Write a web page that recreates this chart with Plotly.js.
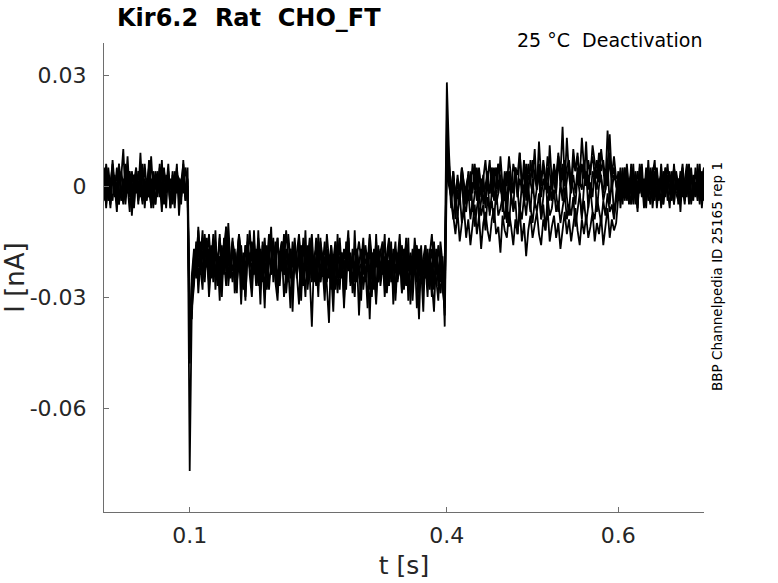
<!DOCTYPE html>
<html>
<head>
<meta charset="utf-8">
<script src="https://cdn.plot.ly/plotly-3.0.1.min.js"></script>
<style>
  html, body { margin: 0; padding: 0; background: #fff; }
  #plot { width: 778px; height: 583px; }
</style>
</head>
<body>
<div id="plot"></div>
<script>
// sweeps sampled every 2.5 ms from t = 0, current read off the picture in pA
// each sweep: pre (0-0.1 s), step (0.1-0.4 s), tail (0.4-0.6 s), post (0.6-0.7 s)
const sampleStep = 0.0025

const sweep1 = {
  pre: [2,-3,5,-1,-4,3,-2,6,-3,1,-5,2,4,-2,-6,3,0,-3,5,-4,2,-1,-5,4,1,-3,6,-2,-4,3,-1,2,-5,4,-2,1,-3,5,-4,0],
  step: [-77,-31,-24,-17,-22,-15,-25,-19,-14,-23, -18,-26,-16,-21,-13,-24,-20,-27,-15,-22,
         -17,-25,-19,-14,-23,-28,-16,-21,-18,-24, -15,-22,-27,-17,-20,-14,-25,-19,-23,-16,
         -21,-29,-18,-15,-24,-20,-26,-17,-22,-14, -23,-19,-31,-16,-21,-25,-18,-13,-24,-20,
         -27,-17,-22,-15,-26,-19,-23,-34,-18,-21, -16,-24,-20,-28,-15,-22,-19,-25,-17,-23,
         -21,-14,-26,-18,-23,-30,-17,-22,-19,-25, -16,-24,-20,-27,-18,-22,-15,-26,-21,-19,
         -28,-17,-23,-20,-25,-16,-22,-36,-19,-24, -18,-26,-21,-17,-27,-20,-24,-19,-29,-22],
  tail: [28,9,-3,-8,-13,-7,-15,-10,-6,-14, -9,-16,-11,-5,-13,-8,-17,-10,-7,-12,
         -15,-9,-6,-13,-11,-18,-8,-12,-14,-7, -11,-16,-9,-13,-6,-15,-10,-19,-12,-8,
         -14,-10,-7,-13,-16,-9,-12,-6,-15,-11, -8,-14,-10,-17,-12,-7,-13,-9,-15,-11,
         -6,-12,-16,-9,-13,-8,-14,-11,-7,-15, -10,-13,-8,-16,-11,-6,-14,-9,-12,-10],
  post: [-3,4,-1,5,-4,2,-2,6,-5,1,3,-3,0,-6,4,-1,2,-4,5,-2,1,-5,3,-1,4,-3,6,-2,-4,2,0,-5,3,-1,5,-3,1,-4,2,-2,4]
}

const sweep2 = {
  pre: [-2,4,-1,-5,3,1,-4,6,-2,-3,5,-1,2,-6,3,-2,4,0,-5,2,-3,7,-1,-4,3,-2,5,-3,1,-6,4,-1,2,-4,5,-2,-3,3,-1,2],
  step: [-42,-26,-19,-23,-16,-24,-18,-13,-22,-17, -25,-20,-15,-23,-19,-27,-14,-21,-18,-24,
         -16,-22,-20,-13,-26,-18,-23,-15,-21,-19, -24,-17,-22,-28,-16,-20,-25,-18,-14,-23,
         -19,-26,-21,-15,-24,-17,-22,-20,-27,-16, -22,-18,-25,-14,-21,-23,-17,-26,-19,-24,
         -15,-23,-20,-27,-18,-22,-16,-24,-21,-29, -19,-25,-17,-22,-14,-26,-20,-23,-18,-24,
         -27,-16,-21,-19,-25,-18,-23,-32,-20,-17, -24,-19,-22,-15,-26,-21,-18,-25,-23,-16,
         -22,-27,-19,-24,-17,-21,-26,-18,-23,-20, -25,-17,-28,-21,-19,-24,-16,-22,-26,-20],
  tail: [7,2,-4,-9,-3,-8,-2,-10,-5,-7, -1,-9,-4,-11,-6,-2,-8,-5,-12,-3,
         -7,-4,-10,-1,-8,-6,-3,-9,-5,-11, -2,-7,-4,-13,-6,-9,-3,-8,-1,-6,
         -10,-4,-7,-2,-9,-5,-12,-3,-8,-6, -1,-7,-4,-10,-6,-2,-9,-5,-8,-3,
         -11,-6,-2,-8,-4,-10,-5,-1,-7,-9, -3,-6,-10,-4,-8,-2,-7,-5,-9,-4],
  post: [2,-4,3,-2,5,-5,1,-1,4,-3,0,6,-4,2,-2,3,-6,1,4,-3,2,-1,5,-4,0,3,-5,2,-2,4,-3,1,6,-2,-4,3,-1,2,-5,4,-1]
}

const sweep3 = {
  pre: [1,-5,3,-2,4,-3,0,5,-4,2,-1,8,-3,1,-5,4,-2,3,-4,6,-1,-3,2,-6,4,1,-2,5,-3,0,3,-5,2,-1,4,-4,1,6,-2,-3],
  step: [-36,-28,-22,-16,-25,-20,-14,-23,-18,-26, -21,-15,-24,-19,-27,-17,-22,-13,-25,-20,
         -23,-18,-26,-21,-16,-24,-30,-19,-22,-15, -20,-25,-17,-23,-19,-28,-21,-16,-24,-22,
         -15,-26,-20,-23,-18,-25,-22,-33,-17,-21, -24,-19,-16,-27,-22,-20,-25,-18,-23,-14,
         -21,-26,-19,-24,-17,-22,-28,-20,-15,-25, -23,-18,-27,-21,-16,-24,-20,-26,-19,-35,
         -22,-17,-25,-20,-28,-18,-23,-15,-26,-21, -19,-27,-22,-16,-24,-20,-29,-18,-23,-25,
         -17,-22,-26,-19,-31,-21,-16,-24,-20,-27, -23,-18,-25,-21,-28,-17,-22,-26,-19,-38],
  tail: [5,0,-3,2,-5,1,-2,4,-6,0, 3,-4,1,-1,5,-3,2,-5,0,4,
         -2,3,-4,1,6,-1,-3,2,-5,4, 0,-2,5,-3,2,-1,7,-4,3,1,
         -2,4,0,6,-3,2,-1,5,-4,3, 1,-2,8,0,4,-3,2,6,-1,3,
         -2,5,1,-1,7,0,3,-3,4,2, -1,6,2,-2,4,0,9,-1,3,1],
  post: [-4,2,-2,5,-3,1,3,-5,0,4,-2,2,-6,3,-1,5,-3,0,2,-4,6,-1,-3,3,-2,1,-5,4,0,-2,5,-4,2,-1,3,-3,1,-2,6,-4,0]
}

const sweep4 = {
  pre: [-1,3,-4,2,6,-2,1,-5,4,0,-3,5,-1,-4,3,2,-2,9,-3,1,-4,4,-1,2,-5,3,0,-3,5,-2,1,-6,3,-1,4,-3,2,-2,5,1],
  step: [-48,-24,-17,-21,-12,-19,-23,-15,-20,-13, -22,-16,-19,-24,-14,-21,-17,-11,-20,-25,
         -15,-19,-22,-13,-18,-24,-16,-21,-12,-20, -17,-23,-14,-19,-26,-16,-21,-13,-18,-22,
         -20,-14,-24,-17,-21,-12,-19,-25,-15,-22, -18,-13,-21,-27,-16,-20,-14,-23,-19,-17,
         -22,-15,-19,-24,-13,-20,-18,-26,-16,-21, -14,-23,-18,-20,-12,-25,-17,-22,-19,-15,
         -20,-24,-16,-21,-13,-19,-26,-17,-22,-18, -15,-23,-19,-14,-21,-28,-17,-20,-13,-24,
         -19,-16,-22,-18,-25,-14,-21,-17,-23,-20, -16,-24,-19,-13,-22,-18,-27,-15,-21,-30],
  tail: [8,3,-1,4,-3,2,-2,5,0,-4, 3,1,-2,6,-1,4,-3,2,7,0,
         -2,5,1,-1,6,2,-3,4,0,8, 2,-1,5,3,9,0,4,-2,6,1,
         7,3,-1,12,2,5,0,8,4,-1, 6,2,9,3,16,1,5,7,0,10,
         4,8,2,13,5,0,7,3,11,6, 2,9,4,7,1,15,5,3,8,2],
  post: [3,-2,5,-4,1,-1,4,-3,2,-5,6,0,-2,3,-4,1,5,-3,-1,2,-6,4,-2,0,3,-3,5,-1,2,-4,1,-2,4,-5,3,0,-3,6,-1,2,-4]
}

const sweep5 = {
  pre: [5,-6,2,-3,7,-1,-7,4,0,-5,6,-2,3,-8,1,5,-4,-1,6,-6,2,-3,8,-2,-5,3,1,-7,4,-1,6,-4,0,-6,3,2,-5,7,-3,-1],
  step: [-39,-33,-27,-15,-29,-20,-12,-26,-17,-30, -22,-13,-28,-19,-31,-16,-24,-11,-27,-21,
         -14,-29,-23,-17,-32,-19,-26,-13,-24,-30, -18,-27,-12,-25,-21,-33,-16,-28,-20,-14,
         -26,-31,-18,-23,-13,-29,-22,-17,-34,-19, -25,-14,-28,-21,-30,-16,-24,-38,-20,-27,
         -13,-26,-22,-31,-17,-25,-19,-29,-15,-23, -28,-18,-33,-21,-14,-27,-24,-30,-17,-22,
         -31,-16,-25,-20,-36,-19,-28,-13,-26,-23, -18,-30,-22,-27,-15,-32,-21,-25,-17,-29,
         -24,-14,-31,-20,-27,-18,-33,-23,-16,-28, -21,-30,-17,-26,-34,-19,-25,-29,-22,-35],
  tail: [14,4,-6,2,-9,-1,-5,3,-8,0, -4,4,-7,-2,2,-9,-3,1,-6,3,
         -8,-1,5,-5,-2,3,-7,0,-10,2, -3,-6,4,-1,-8,1,-4,6,-2,-7,
         2,-5,-1,4,-9,-3,3,-6,0,-4, 5,-2,-7,1,-4,7,-3,-8,2,-1,
         -5,3,-2,-9,0,4,-6,1,-3,5, -7,0,3,-4,-1,6,-5,2,-8,-2],
  post: [4,-6,1,-3,6,-1,-5,3,0,-7,5,-2,2,-4,7,-3,-1,4,-6,1,3,-5,0,6,-2,-4,5,-1,2,-7,3,0,-3,6,-5,1,-2,4,-4,2,5]
}

const sweep6 = {
  pre: [-4,6,1,-6,3,-2,5,-5,2,10,-3,0,-7,4,-1,3,-5,6,-2,-4,1,5,-6,2,-1,4,-3,7,-5,0,2,-6,4,-2,6,-8,1,3,-4,5],
  step: [-33,-36,-18,-25,-11,-22,-28,-14,-20,-26, -16,-24,-12,-27,-19,-30,-15,-23,-10,-21,
         -26,-17,-29,-13,-24,-20,-31,-16,-22,-27, -12,-25,-19,-32,-15,-23,-28,-18,-11,-26,
         -21,-14,-27,-18,-30,-24,-13,-20,-29,-16, -23,-32,-17,-25,-12,-28,-21,-15,-26,-19,
         -30,-14,-24,-19,-27,-37,-16,-22,-28,-13, -25,-20,-31,-15,-23,-18,-29,-12,-26,-21,
         -17,-28,-22,-33,-14,-24,-19,-30,-16,-27, -22,-13,-29,-20,-25,-17,-31,-21,-15,-28,
         -20,-26,-14,-32,-19,-24,-17,-29,-22,-34, -16,-27,-21,-30,-15,-25,-31,-18,-28,-33],
  tail: [18,6,-2,4,-4,3,-3,5,-1,-5, 4,-2,6,0,-4,5,-1,3,-5,2,
         7,-3,1,5,-2,8,0,-4,4,1, -2,6,3,-3,9,1,-1,5,-3,7,
         2,10,-1,4,0,7,3,-2,11,1, 5,-1,8,2,6,0,13,3,-2,7,
         4,9,0,6,2,12,-1,5,8,3, 7,1,10,4,-1,6,14,2,5,0],
  post: [-2,5,-5,3,0,-4,6,-1,2,-6,4,1,-3,5,-2,-5,3,7,-4,0,2,-3,5,-1,-6,4,-2,3,-5,1,6,-3,0,4,-2,-4,5,-1,3,-6,2]
}

const sweeps = [sweep1, sweep2, sweep3, sweep4, sweep5, sweep6]

const xTicks = [0.1, 0.4, 0.6]
const xTickLabels = ["0.1", "0.4", "0.6"]
const yTicks = [-0.06, -0.03, 0, 0.03]
const yTickLabels = ["-0.06", "-0.03", "0", "0.03"]

const font = "DejaVu Sans, Liberation Sans, sans-serif"
const textColor = "#262626"
const axisColor = "#6e6e6e"

// pA -> nA
const toNA = (arr) => arr.map(v => v / 1000)

const data = sweeps.map(s => ({
  type: "scatter",
  mode: "lines",
  x0: 0,
  dx: sampleStep,
  y: toNA([].concat(s.pre, s.step, s.tail, s.post)),
  line: { color: "#000000", width: 1.8 },
  hoverinfo: "skip",
  showlegend: false
}))

const layout = {
  width: 778,
  height: 583,
  margin: { l: 104, r: 74, t: 43, b: 71, pad: 0 },
  paper_bgcolor: "#ffffff",
  plot_bgcolor: "#ffffff",
  font: { family: font, color: textColor },
  showlegend: false,
  title: {
    text: "<b>Kir6.2  Rat  CHO_FT</b>",
    font: { family: font, size: 24, color: "#000000" },
    xref: "container",
    yref: "container",
    x: 117 / 778,
    xanchor: "left",
    y: 1 - 18 / 583,
    yanchor: "middle"
  },
  xaxis: {
    range: [0, 0.7],
    tickmode: "array",
    tickvals: xTicks,
    ticktext: xTickLabels,
    ticks: "inside",
    ticklen: 5,
    tickwidth: 1,
    tickcolor: axisColor,
    showline: true,
    linecolor: axisColor,
    linewidth: 1,
    showgrid: false,
    zeroline: false,
    tickfont: { family: font, size: 22, color: textColor },
    ticklabelstandoff: 4,
    title: { text: "t [s]", font: { family: font, size: 25, color: textColor }, standoff: 9 },
    fixedrange: true
  },
  yaxis: {
    range: [-0.088108, 0.038649],
    tickmode: "array",
    tickvals: yTicks,
    ticktext: yTickLabels,
    ticks: "inside",
    ticklen: 5,
    tickwidth: 1,
    tickcolor: axisColor,
    showline: true,
    linecolor: axisColor,
    linewidth: 1,
    showgrid: false,
    zeroline: false,
    tickfont: { family: font, size: 22, color: textColor },
    ticklabelstandoff: 12,
    title: { text: "I [nA]", font: { family: font, size: 26, color: textColor }, standoff: 8 },
    fixedrange: true
  },
  annotations: [
    {
      text: "25 °C  Deactivation",
      xref: "paper", yref: "paper",
      x: 1, xanchor: "right",
      y: 1 + 3 / 469, yanchor: "middle",
      showarrow: false,
      font: { family: font, size: 19, color: "#000000" }
    },
    {
      text: "BBP Channelpedia ID 25165 rep 1",
      xref: "paper", yref: "paper",
      x: (717 - 104) / 600, xanchor: "center",
      y: (512 - 277) / 469, yanchor: "middle",
      textangle: -90,
      showarrow: false,
      font: { family: font, size: 13.5, color: "#000000" }
    }
  ]
}

Plotly.newPlot("plot", data, layout, { displayModeBar: false, staticPlot: true })
</script>
</body>
</html>
